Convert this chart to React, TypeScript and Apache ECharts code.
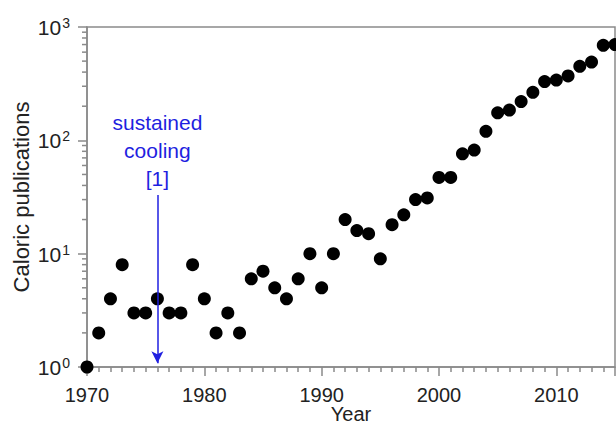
import React, { useEffect, useRef } from "react";
import * as echarts from "echarts";

const years: number[] = [
  1970, 1971, 1972, 1973, 1974, 1975, 1976, 1977, 1978, 1979,
  1980, 1981, 1982, 1983, 1984, 1985, 1986, 1987, 1988, 1989,
  1990, 1991, 1992, 1993, 1994, 1995, 1996, 1997, 1998, 1999,
  2000, 2001, 2002, 2003, 2004, 2005, 2006, 2007, 2008, 2009,
  2010, 2011, 2012, 2013, 2014, 2015,
];
const publications: number[] = [
  1, 2, 4, 8, 3, 3, 4, 3, 3, 8,
  4, 2, 3, 2, 6, 7, 5, 4, 6, 10,
  5, 10, 20, 16, 15, 9, 18, 22, 30, 31,
  47, 47, 76, 82, 120, 175, 185, 220, 265, 330,
  340, 370, 450, 490, 690, 700,
];
const minorLogValues: number[] = [
  2, 3, 4, 5, 6, 7, 8, 9,
  20, 30, 40, 50, 60, 70, 80, 90,
  200, 300, 400, 500, 600, 700, 800, 900,
];
const annotationYear = 1976;
const annotationText = "sustained\ncooling\n[1]";
const arrowFrom = 33;
const arrowTo = 1.08;
const annotationTextValue = 82;

const FONT = "Liberation Sans, Arial, sans-serif";
const AXIS_GRAY = "#8a8a8a";
const BLUE = "#1f1fe0";

export default function App() {
  const ref = useRef<HTMLDivElement>(null);
  useEffect(() => {
    if (!ref.current) return;
    const chart = echarts.init(ref.current, null, { renderer: "svg" });
    const xMin = 1970;
    chart.setOption({
      animation: false,
      textStyle: { fontFamily: FONT },
      grid: {
        left: 87,
        right: 1,
        top: 27,
        bottom: 59,
        containLabel: false,
        outerBoundsMode: "none",
        show: true,
        borderColor: AXIS_GRAY,
        borderWidth: 1.5,
      },
      xAxis: {
        type: "value",
        min: 1970,
        max: 2015,
        interval: 10,
        name: "Year",
        nameLocation: "middle",
        nameGap: 37,
        nameMoveOverlap: false,
        nameTextStyle: { fontSize: 20, color: "#222", fontFamily: FONT },
        axisLine: { lineStyle: { color: AXIS_GRAY, width: 1.5 } },
        axisTick: { length: 9, lineStyle: { color: AXIS_GRAY, width: 1.5 } },
        minorTick: { show: true, splitNumber: 10, length: 5, lineStyle: { color: AXIS_GRAY, width: 1.5 } },
        splitLine: { show: false },
        axisLabel: {
          fontSize: 20,
          color: "#222",
          margin: 18,
          fontFamily: FONT,
          showMaxLabel: false,
          formatter: (v: number) => String(v),
        },
      },
      yAxis: {
        type: "log",
        logBase: 10,
        min: 1,
        max: 1000,
        name: "Caloric publications",
        nameLocation: "middle",
        nameGap: 55,
        nameMoveOverlap: false,
        nameTextStyle: { fontSize: 22, color: "#222", fontFamily: FONT },
        axisLine: { lineStyle: { color: AXIS_GRAY, width: 1.5 } },
        axisTick: { length: 9, lineStyle: { color: AXIS_GRAY, width: 1.5 } },
        splitLine: { show: false },
        axisLabel: {
          margin: 17,
          color: "#222",
          formatter: (v: number) => `{b|10}{s|${Math.round(Math.log10(v))}}`,
          rich: {
            b: { fontSize: 21, color: "#222", fontFamily: FONT, verticalAlign: "bottom" },
            s: { fontSize: 14, color: "#222", fontFamily: FONT, verticalAlign: "top", padding: [0, 0, 8, 1] },
          },
        },
      },
      series: [
        {
          type: "scatter",
          data: years.map((y, i) => [y, publications[i]]),
          symbol: "circle",
          symbolSize: 13,
          itemStyle: { color: "#000", opacity: 1 },
          clip: false,
          z: 3,
          markLine: {
            silent: true,
            symbol: ["none", "arrow"],
            symbolSize: [9, 12],
            lineStyle: { color: BLUE, width: 1.5, type: "solid", opacity: 1 },
            label: { show: false },
            data: [
              [
                { coord: [annotationYear, arrowFrom] },
                { coord: [annotationYear, arrowTo] },
              ],
            ],
          },
          markPoint: {
            silent: true,
            symbol: "circle",
            symbolSize: 0,
            label: {
              show: true,
              position: "inside",
              formatter: annotationText,
              color: BLUE,
              fontSize: 21,
              lineHeight: 28,
              fontFamily: FONT,
              align: "center",
            },
            data: [{ coord: [annotationYear, annotationTextValue] }],
          },
        },
        {
          type: "custom",
          silent: true,
          clip: false,
          data: minorLogValues.map((v) => [xMin, v]),
          renderItem: (params: any, api: any) => {
            const p = api.coord([api.value(0), api.value(1)]);
            return {
              type: "line",
              shape: { x1: p[0] - 5, y1: p[1], x2: p[0], y2: p[1] },
              style: { stroke: AXIS_GRAY, lineWidth: 1.5 },
            };
          },
          z: 1,
        },
      ],
    });
    return () => chart.dispose();
  }, []);
  return (
    <div
      ref={ref}
      style={{ position: "absolute", left: 0, top: 0, width: 616, height: 426 }}
    />
  );
}
